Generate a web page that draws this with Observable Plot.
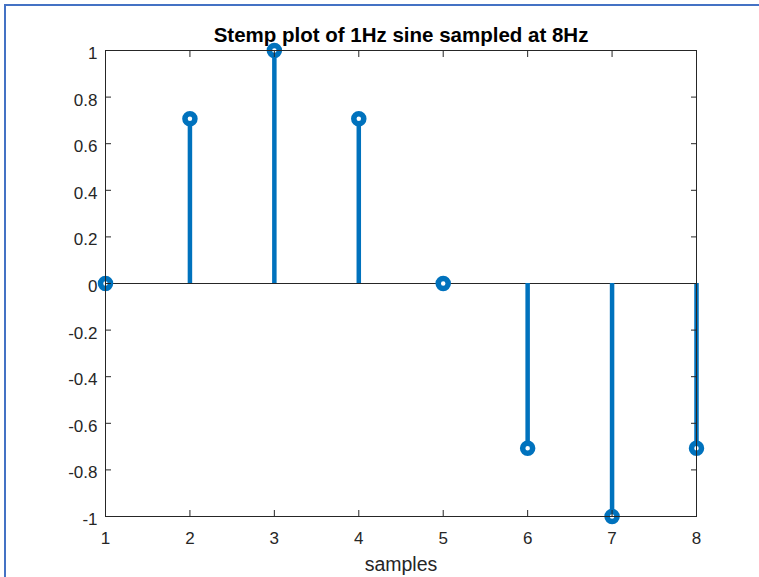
<!DOCTYPE html>
<html>
<head>
<meta charset="utf-8">
<script src="https://cdn.jsdelivr.net/npm/d3@7"></script>
<script src="https://cdn.jsdelivr.net/npm/@observablehq/plot@0.6"></script>
<style>
  html, body { margin: 0; padding: 0; background: #fff; }
  #wrap { position: relative; width: 759px; height: 577px; overflow: hidden; }
  #wrap svg { position: absolute; left: 0; top: 0; }
  #edge { position: absolute; left: 4px; top: 4px; width: 800px; height: 600px;
          border-left: 2px solid #4472C4; border-top: 2px solid #4472C4; pointer-events: none; }
</style>
</head>
<body>
<div id="wrap"><div id="edge"></div></div>
<script>
// Samples of a 1 Hz sine taken at 8 Hz (one period)
const samples = [1, 2, 3, 4, 5, 6, 7, 8];
const values = [0, 0.7071, 1, 0.7071, 0, -0.7071, -1, -0.7071];
const xTicks = [1, 2, 3, 4, 5, 6, 7, 8];
const yTicks = [-1, -0.8, -0.6, -0.4, -0.2, 0, 0.2, 0.4, 0.6, 0.8, 1];
const yTickLabels = ["-1", "-0.8", "-0.6", "-0.4", "-0.2", "0", "0.2", "0.4", "0.6", "0.8", "1"];
const titleText = "Stemp plot of 1Hz sine sampled at 8Hz";
const xLabel = "samples";

const data = samples.map((s, i) => ({s, v: values[i]}));
const axisColor = "#262626";
const stemColor = "#0072BD";
const noText = () => "";

const chart = Plot.plot({
  width: 759,
  height: 577,
  marginLeft: 105,
  marginRight: 63,
  marginTop: 50,
  marginBottom: 61,
  style: {fontFamily: "'Liberation Sans', Arial, Helvetica, sans-serif", background: "transparent"},
  x: {domain: [1, 8]},
  y: {domain: [-1, 1]},
  marks: [
    // zero baseline of the stem plot
    Plot.ruleY([0], {stroke: axisColor, strokeWidth: 1}),
    // stems
    Plot.ruleX(data, {x: "s", y1: 0, y2: "v", stroke: stemColor, strokeWidth: 4.5}),
    // stem heads
    Plot.dot(data, {x: "s", y: "v", r: 5, stroke: stemColor, strokeWidth: 5.5, fill: "white"}),
    // box
    Plot.frame({stroke: axisColor, strokeWidth: 1}),
    // axes with inward ticks
    Plot.axisX({anchor: "bottom", ticks: xTicks, tickSize: -6, tickPadding: 21, tickFormat: d => String(d),
      fontSize: 17, color: axisColor, label: null}),
    Plot.axisX({anchor: "top", ticks: xTicks, tickSize: -6, tickFormat: noText, color: axisColor, label: null}),
    Plot.axisY({anchor: "left", ticks: yTicks, tickSize: 0, tickPadding: 8, dy: 3,
      tickFormat: d => yTickLabels[yTicks.findIndex(t => Math.abs(t - d) < 1e-9)],
      fontSize: 17, color: axisColor, label: null}),
    Plot.axisY({anchor: "left", ticks: yTicks, tickSize: -6, tickFormat: noText, color: axisColor, label: null}),
    Plot.axisY({anchor: "right", ticks: yTicks, tickSize: -6, tickFormat: noText, color: axisColor, label: null}),
    // title and axis label
    Plot.text([titleText], {frameAnchor: "top", lineAnchor: "middle", dy: -15.5, fontSize: 20.5, fontWeight: "bold", fill: "#000"}),
    Plot.text([xLabel], {frameAnchor: "bottom", lineAnchor: "middle", dy: 48, fontSize: 19.5, fill: axisColor})
  ]
});
document.getElementById("wrap").prepend(chart);
</script>
</body>
</html>
